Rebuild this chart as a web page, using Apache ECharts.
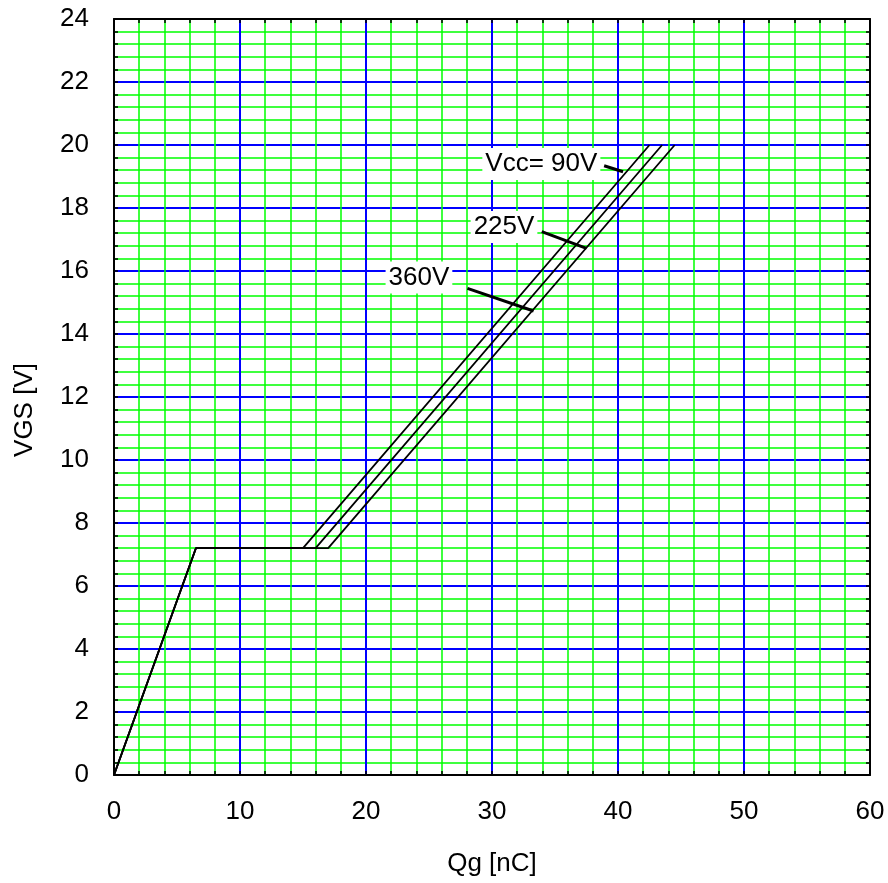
<!DOCTYPE html>
<html>
<head>
<meta charset="utf-8">
<script src="https://cdn.jsdelivr.net/npm/echarts@6/dist/echarts.min.js"></script>
<style>html,body{margin:0;padding:0;background:#fff}#c{width:888px;height:883px}</style>
</head>
<body>
<div id="c"></div>
<script>
// Data (Qg [nC], VGS [V])
const curve90 = [[0,0],[6.5,7.2],[15,7.2],[42.5,20]];
const curve225 = [[0,0],[6.5,7.2],[16,7.2],[43.5,20]];
const curve360 = [[0,0],[6.5,7.2],[17,7.2],[44.5,20]];
const leader90 = [[38.9,19.34],[40.4,19.15]];
const leader225 = [[33.95,17.25],[37.5,16.72]];
const leader360 = [[28.05,15.45],[33.3,14.73]];
const labelTexts = ['Vcc= 90V','225V','360V'];
const labelAnchors = [[38.6,19.40],[33.6,17.40],[26.85,15.79]];
const xTicks = {min:0, max:60, interval:10};
const yTicks = {min:0, max:24, interval:2};

const FONT = 'Liberation Sans, Arial, sans-serif';
const chart = echarts.init(document.getElementById('c'), null, {renderer:'canvas'});

function axisBase(t, showLabel){
  return {
    type:'value', min:t.min, max:t.max, interval:t.interval,
    axisLine:{show:true, onZero:false, lineStyle:{color:'#000', width:2}},
    axisTick:{show:true, inside:true, length:4, lineStyle:{color:'#000', width:1.5}},
    minorTick:{show:true, splitNumber:5, length:4, lineStyle:{color:'#000', width:1.5}},
    axisLabel:{show:showLabel, fontFamily:FONT, fontSize:26, color:'#000'},
    splitLine:{show:false},
    minorSplitLine:{show:false}
  };
}

const xMain = Object.assign(axisBase(xTicks,true), {
  position:'bottom',
  name:'Qg [nC]', nameLocation:'middle', nameGap:76,
  nameTextStyle:{fontFamily:FONT, fontSize:26, color:'#000'},
  splitLine:{show:true, lineStyle:{color:'#0000ff', width:2}},
  minorSplitLine:{show:true, lineStyle:{color:'#00ff00', width:1.5}}
});
xMain.axisLabel.margin = 24;
const xTop = Object.assign(axisBase(xTicks,false), {position:'top'});
const yMain = Object.assign(axisBase(yTicks,true), {
  position:'left',
  name:'VGS [V]', nameLocation:'middle', nameGap:76,
  nameTextStyle:{fontFamily:FONT, fontSize:26, color:'#000', padding:[0,26,0,0]},
  splitLine:{show:true, lineStyle:{color:'#0000ff', width:2}},
  minorSplitLine:{show:true, lineStyle:{color:'#00ff00', width:1.5}}
});
yMain.axisLabel.margin = 25;
const yRight = Object.assign(axisBase(yTicks,false), {position:'right'});

function lineSeries(data, w){
  return {type:'line', data:data, symbol:'none', silent:true, animation:false,
    xAxisIndex:0, yAxisIndex:0,
    lineStyle:{color:'#000', width:w, opacity:1}, z:5};
}

const labelSeries = {
  type:'scatter', symbolSize:0, animation:false, silent:true, z:10,
  itemStyle:{opacity:1, color:'#000'},
  data: labelAnchors.map((p,i)=>({value:p, name:labelTexts[i]})),
  label:{show:true, position:'left', distance:0, formatter:p=>p.name,
    fontFamily:FONT, fontSize:26, color:'#000', backgroundColor:'#fff',
    opacity:1, padding:[3,3,3,3]}
};

chart.setOption({
  animation:false,
  backgroundColor:'#fff',
  grid:{left:114, right:18, top:19, bottom:108, containLabel:false},
  xAxis:[xMain, xTop],
  yAxis:[yMain, yRight],
  series:[
    lineSeries(curve90,1.8),
    lineSeries(curve225,1.8),
    lineSeries(curve360,1.8),
    lineSeries(leader90,3),
    lineSeries(leader225,3),
    lineSeries(leader360,3),
    labelSeries
  ]
});
</script>
</body>
</html>
